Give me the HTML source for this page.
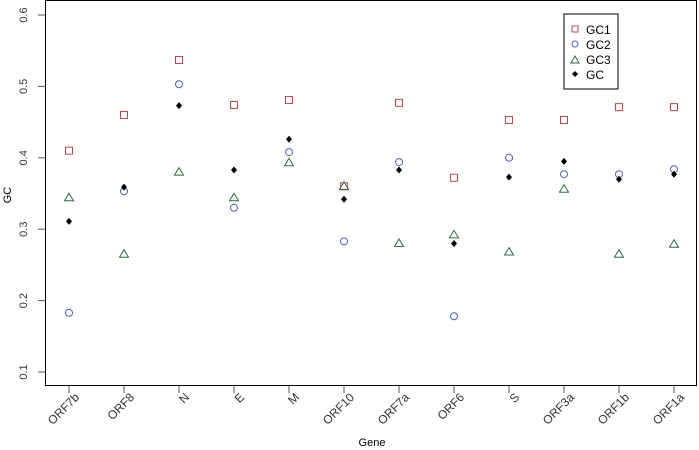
<!DOCTYPE html>
<html><head><meta charset="utf-8"><style>
body{margin:0;background:#fff;}
svg{display:block;font-family:"Liberation Sans",sans-serif;}
</style></head><body>
<svg id="chart" width="699" height="450">
<g id="axes"></g><g id="marks"></g>
<g>
<rect x="564" y="14" width="54" height="75" fill="#fff" stroke="#000" stroke-width="1"/>
<rect x="572" y="26" width="6" height="6" fill="none" stroke="#b84a4a"/>
<text x="586" y="34" font-size="12">GC1</text>
<circle cx="575" cy="44" r="3" fill="none" stroke="#4a62ad"/>
<text x="586" y="49" font-size="12">GC2</text>
<path d="M575,56 L579,63 L571,63 Z" fill="none" stroke="#2e6b3e"/>
<text x="586" y="64" font-size="12">GC3</text>
<path d="M575,71 L578,74 L575,77 L572,74 Z" fill="#000"/>
<text x="586" y="79" font-size="12">GC</text>
</g>
<text x="372" y="446" font-size="11" text-anchor="middle">Gene</text>
<text x="0" y="0" font-size="11" text-anchor="middle" transform="translate(11,195) rotate(-90)">GC</text>
</svg>
<script>
const genes=["ORF7b","ORF8","N","E","M","ORF10","ORF7a","ORF6","S","ORF3a","ORF1b","ORF1a"];
const gc1=[0.41,0.46,0.537,0.474,0.481,0.36,0.477,0.372,0.453,0.453,0.471,0.471];
const gc2=[0.183,0.353,0.503,0.33,0.408,0.283,0.394,0.178,0.4,0.377,0.377,0.384];
const gc3=[0.344,0.265,0.38,0.344,0.393,0.36,0.28,0.292,0.268,0.356,0.265,0.279];
const gc=[0.311,0.359,0.473,0.383,0.426,0.342,0.383,0.28,0.373,0.395,0.37,0.377];
const yTicks=[0.1,0.2,0.3,0.4,0.5,0.6];
const NS="http://www.w3.org/2000/svg";
function xs(i){return 69+i*55;}
function ys(v){return 372-(v-0.1)*714;}
function mk(tag,attrs,parent){const e=document.createElementNS(NS,tag);for(const k in attrs)e.setAttribute(k,attrs[k]);parent.appendChild(e);return e;}
const ax=document.getElementById('axes'),mg=document.getElementById('marks');
const box=mk('rect',{x:45.5,y:0.5,width:651,height:385,fill:'none',stroke:'#000'},ax);


yTicks.forEach(v=>{
 const y=ys(v);
 mk('line',{x1:38,x2:45,y1:y,y2:y,stroke:'#555'},ax);
 const t=mk('text',{transform:`translate(27,${y}) rotate(-90)`,'font-size':11,'text-anchor':'middle',fill:'#333'},ax);
 t.textContent=v.toFixed(1);
 
 
});
genes.forEach((g,i)=>{
 const x=xs(i);
 mk('line',{x1:x,x2:x,y1:386,y2:393,stroke:'#555'},ax);
 const t=mk('text',{transform:`translate(${x+11},${398}) rotate(-45)`,'font-size':12,'text-anchor':'end',fill:'#333'},ax);
 t.textContent=g;
 
 
});
genes.forEach((g,i)=>{
 const x=xs(i);
 let y=ys(gc1[i]);
 const a=mk('rect',{x:x-3.5,y:y-3.5,width:7,height:7,fill:'none',stroke:'#b84a4a'},mg);
 
 
 y=ys(gc2[i]);
 const b=mk('circle',{cx:x,cy:y,r:3.5,fill:'none',stroke:'#4a62ad'},mg);
 
 
 y=ys(gc3[i]);
 const c=mk('path',{d:`M${x},${y-4.5} L${x+4.5},${y+3} L${x-4.5},${y+3} Z`,fill:'none',stroke:'#2e6b3e'},mg);
 
 
 y=ys(gc[i]);
 const d=mk('path',{d:`M${x},${y-3.5} L${x+3},${y} L${x},${y+3.5} L${x-3},${y} Z`,fill:'#000'},mg);
 
 
});
</script>
</body></html>
